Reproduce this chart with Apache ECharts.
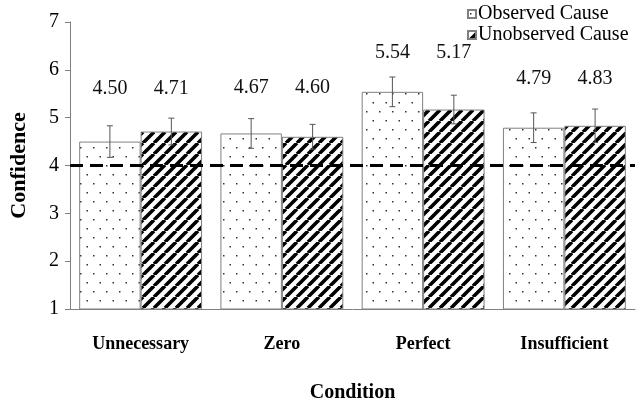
<!DOCTYPE html>
<html>
<head>
<meta charset="utf-8">
<script src="https://cdn.jsdelivr.net/npm/echarts@6/dist/echarts.min.js"></script>
<style>
  html, body { margin: 0; padding: 0; background: #fff; }
  #chart { width: 644px; height: 408px; }
</style>
</head>
<body>
<div id="chart"></div>
<script>
// Mean confidence ratings per condition, with standard-error bars
const categories = ['Unnecessary', 'Zero', 'Perfect', 'Insufficient'];
const observedCause = [4.50, 4.67, 5.54, 4.79];
const unobservedCause = [4.71, 4.60, 5.17, 4.83];
const observedErr = [0.33, 0.31, 0.31, 0.31];
const unobservedErr = [0.28, 0.26, 0.30, 0.35];
const yTicks = [1, 2, 3, 4, 5, 6, 7];
const referenceLevel = 4;

const SERIF = '"Liberation Serif", "Times New Roman", serif';
const BAR_FRACTION = 0.435; // share of each category band taken by one bar
const LABEL_RAISE = 1.0;    // value labels sit this far (in axis units) above the pair's mean

// sparse dot fill
function dotPattern() {
  const c = document.createElement('canvas');
  c.width = 13; c.height = 18;
  const g = c.getContext('2d');
  g.fillStyle = '#fff';
  g.fillRect(0, 0, 13, 18);
  g.fillStyle = '#333';
  g.fillRect(2, 3, 1.5, 1.5);
  g.fillRect(8.5, 12, 1.5, 1.5);
  return c;
}

// bold diagonal hatch fill
function hatchPattern() {
  const s = 11;
  const c = document.createElement('canvas');
  c.width = s; c.height = s;
  const g = c.getContext('2d');
  g.fillStyle = '#fff';
  g.fillRect(0, 0, s, s);
  g.strokeStyle = '#000';
  g.lineWidth = 3.6;
  g.beginPath();
  [-s, 0, s].forEach(k => { g.moveTo(k, s); g.lineTo(k + s, 0); });
  g.stroke();
  return c;
}

const dotFill = { image: dotPattern(), repeat: 'repeat' };
const hatchFill = { image: hatchPattern(), repeat: 'repeat' };

// [category index, mean, error, side, label level]
function errorData(values, errs, side) {
  return values.map((v, i) => {
    const pairMean = (observedCause[i] + unobservedCause[i]) / 2;
    return [i, v, errs[i], side, pairMean + LABEL_RAISE];
  });
}

function renderError(params, api) {
  const ci = api.value(0);
  const v = api.value(1);
  const e = api.value(2);
  const side = api.value(3);
  const labelLevel = api.value(4);
  const band = api.size([1, 0])[0];
  const x = api.coord([ci, v])[0] + side * band * BAR_FRACTION / 2;
  const top = api.coord([ci, v + e])[1];
  const bot = api.coord([ci, v - e])[1];
  const labelY = api.coord([ci, labelLevel])[1];
  const cap = 3;
  const ls = { stroke: '#555', lineWidth: 1 };
  return {
    type: 'group',
    children: [
      { type: 'line', shape: { x1: x, y1: top, x2: x, y2: bot }, style: ls },
      { type: 'line', shape: { x1: x - cap, y1: top, x2: x + cap, y2: top }, style: ls },
      { type: 'line', shape: { x1: x - cap, y1: bot, x2: x + cap, y2: bot }, style: ls },
      {
        type: 'text',
        style: {
          x: x, y: labelY, text: v.toFixed(2),
          font: '20px ' + SERIF, fill: '#111',
          align: 'center', verticalAlign: 'middle'
        }
      }
    ]
  };
}

const chart = echarts.init(document.getElementById('chart'), null, { renderer: 'canvas' });

chart.setOption({
  animation: false,
  backgroundColor: '#fff',
  grid: { left: 62, right: 9, top: 22, bottom: 95, containLabel: false },
  legend: {
    orient: 'vertical',
    left: 467,
    top: 4,
    padding: 0,
    itemWidth: 8,
    itemHeight: 8,
    itemGap: 1,
    icon: 'rect',
    data: ['Observed Cause', 'Unobserved Cause'],
    textStyle: { fontFamily: SERIF, fontSize: 20, color: '#000', lineHeight: 19, padding: [0, 0, 0, -3] }
  },
  xAxis: {
    type: 'category',
    data: categories,
    name: 'Condition',
    nameLocation: 'middle',
    nameGap: 74,
    nameTextStyle: { fontFamily: SERIF, fontSize: 20, fontWeight: 'bold', color: '#000' },
    axisLine: { lineStyle: { color: '#808080', width: 1 } },
    axisTick: { length: 5, lineStyle: { color: '#808080' } },
    axisLabel: { fontFamily: SERIF, fontSize: 18, fontWeight: 'bold', color: '#000', margin: 26 }
  },
  yAxis: {
    type: 'value',
    min: yTicks[0],
    max: yTicks[yTicks.length - 1],
    interval: 1,
    name: 'Confidence',
    nameLocation: 'middle',
    nameGap: 40,
    nameTextStyle: { fontFamily: SERIF, fontSize: 22, fontWeight: 'bold', color: '#000' },
    axisLine: { show: true, lineStyle: { color: '#808080', width: 1 } },
    axisTick: { show: true, length: 5, lineStyle: { color: '#808080' } },
    splitLine: { show: false },
    axisLabel: { fontFamily: SERIF, fontSize: 20, color: '#000', margin: 11 }
  },
  series: [
    {
      name: 'Observed Cause',
      type: 'bar',
      data: observedCause,
      barWidth: (BAR_FRACTION * 100) + '%',
      barGap: '0%',
      itemStyle: { color: dotFill, borderColor: '#808080', borderWidth: 1 },
      markLine: {
        silent: true,
        symbol: ['none', 'none'],
        label: { show: false },
        lineStyle: { color: '#000', width: 3, type: [13, 7] },
        data: [{ yAxis: referenceLevel }],
        z: 5
      }
    },
    {
      name: 'Unobserved Cause',
      type: 'bar',
      data: unobservedCause,
      barWidth: (BAR_FRACTION * 100) + '%',
      barGap: '0%',
      itemStyle: { color: hatchFill, borderColor: '#808080', borderWidth: 1 }
    },
    {
      type: 'custom',
      coordinateSystem: 'cartesian2d',
      renderItem: renderError,
      encode: { x: 0, y: 1 },
      data: errorData(observedCause, observedErr, -1),
      z: 6,
      silent: true
    },
    {
      type: 'custom',
      coordinateSystem: 'cartesian2d',
      renderItem: renderError,
      encode: { x: 0, y: 1 },
      data: errorData(unobservedCause, unobservedErr, 1),
      z: 6,
      silent: true
    }
  ]
});
</script>
</body>
</html>
